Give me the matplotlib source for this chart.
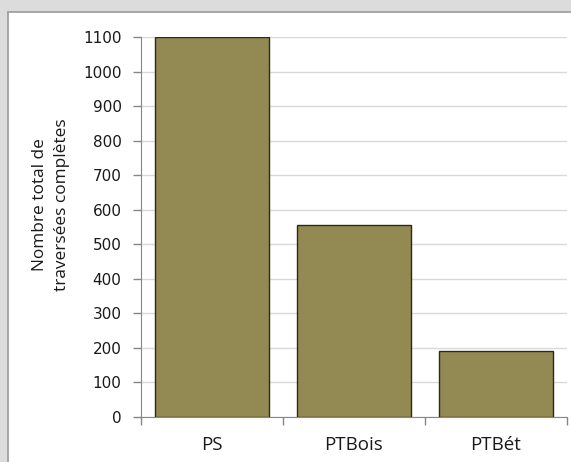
import matplotlib
matplotlib.use("Agg")
import matplotlib.pyplot as plt
from matplotlib.patches import Rectangle

categories = ["PS", "PTBois", "PTBét"]
values = [1100, 557, 192]
yticks = list(range(0, 1101, 100))

plt.rcParams['font.family'] = ['Open Sans', 'DejaVu Sans']

fig = plt.figure(figsize=(5.71, 4.62), dpi=100)
fig.patch.set_facecolor('#dcdcdc')

# white panel in a background axes
bg = fig.add_axes([0, 0, 1, 1], zorder=-1)
bg.set_xlim(0, 571)
bg.set_ylim(462, 0)
bg.axis('off')
bg.add_patch(Rectangle((8, 12), 600, 500, facecolor='white', edgecolor='#9a9a9a', linewidth=1.2))

ax = fig.add_axes([141 / 571, 1 - 417 / 462, (567 - 141) / 571, (417 - 37) / 462], zorder=1)
ax.set_facecolor('none')

x = range(len(categories))
ax.bar(x, values, width=0.8, color='#938953', edgecolor='#2a2a1a', linewidth=1.0, zorder=3)

ax.set_xlim(-0.5, len(categories) - 0.5)
ax.set_ylim(0, 1100)
ax.set_yticks(yticks)
ax.set_yticklabels([str(t) for t in yticks], fontsize=11, family='DejaVu Sans', color='#1a1a1a')
ax.set_xticks(list(x))
ax.set_xticklabels(categories, fontsize=13.5, color='#1a1a1a')
ax.tick_params(axis='x', length=0, pad=14)
ax.set_xticks([-0.5, 0.5, 1.5, 2.5], minor=True)
ax.tick_params(axis='x', which='minor', length=6, color='#868686', width=1)
ax.tick_params(axis='y', length=6, color='#868686', width=1, pad=8)

ax.grid(axis='y', color='#d9d9d9', linewidth=1.0, zorder=0)
ax.set_axisbelow(True)
for s in ['top', 'right']:
    ax.spines[s].set_visible(False)
ax.spines['left'].set_color('#868686')
ax.spines['bottom'].set_color('#868686')

fig.text(51 / 571, 1 - 205 / 462, "Nombre total de\ntraversées complètes", rotation=90,
         ha='center', va='center', fontsize=12.4, linespacing=1.5, color='#1a1a1a')

fig.savefig("out.png", dpi=100, facecolor=fig.get_facecolor())
